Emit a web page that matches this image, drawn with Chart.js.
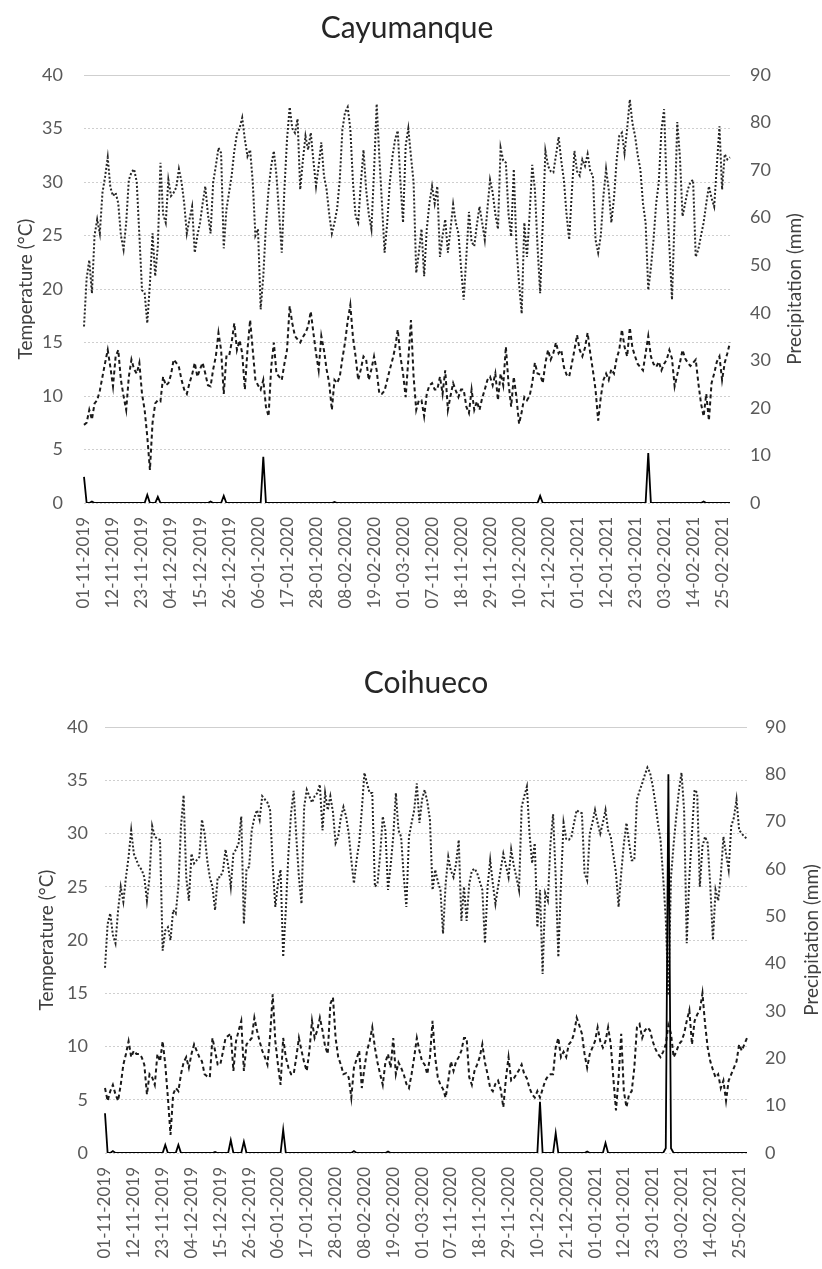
<!DOCTYPE html>
<html>
<head>
<meta charset="utf-8">
<script src="https://cdn.jsdelivr.net/npm/chart.js@4/dist/chart.umd.min.js"></script>
<style>
  body { margin: 0; background: #fff; }
  .box { position: absolute; left: 0; }
  canvas { display: block; }
</style>
</head>
<body>
<div class="box" style="top:0px"><canvas id="cay" width="822" height="610"></canvas></div>
<div class="box" style="top:640px"><canvas id="coi" width="822" height="629"></canvas></div>
<script>
// two seasons: 01-11-2019 .. 05-03-2020 and 01-11-2020 .. 28-02-2021
const seasons = [["2019-11-01", 126], ["2020-11-01", 120]];
const tickEvery = 11;

const cayTmax = [
  16.5,21,22.7,19.6,25,26.5,25.2,29,30.5,32.3,
  29.5,28.7,29,28,25,23.7,26.2,30.2,30.9,31.2,
  30,25,19.9,19.6,16.8,20.5,25.2,21.2,24,31.8,
  27,26.2,30.2,28.7,29,29.5,31.2,30,28,25.2,
  26.5,27.7,23.4,25,26.2,28,29.6,27,25.2,30,
  31.5,33.2,32.7,23.8,27.4,29,30.6,32.9,34.5,35,
  36,34,32.4,33,30,25,25.6,18.1,21.2,26,
  29.3,31.5,32.9,30.6,27,23.4,29.3,34,37,35,
  34.6,35.9,29.3,32,34.3,33,34.6,32,29.6,31.5,
  33.7,30.6,29.3,27,25.2,26.2,27.5,30.2,34.9,36.5,
  37,35,30,26.8,26.2,29.9,33,29.3,27,25.6,
  31,37.3,32.4,28,23.4,26.2,30,32.4,34,34.8,
  30,26.2,33.4,35,32.4,30,21.5,23.4,25.6,21.2,
  25.6,28,29.6,28,29.6,23,25,26.5,23.4,25.6,
  27.9,26.2,25.2,22,19,23,27.2,24.4,24,26,
  27.7,26.2,24.6,27.5,30.2,29,27,25.6,33.2,32,
  31.8,27,24.9,31.2,24,20.5,17.7,26.2,23,27,
  31.6,29.3,24,19.6,26.2,32.9,31.5,31,30.9,32.5,
  34.2,32,30.2,27,24.6,29,32.9,31,30.6,32.1,
  31.5,32.6,31,30.6,24.6,23.4,25,28.7,31.2,29.3,
  26.2,28.5,32,34.3,34.6,32.7,35,37.7,35.5,34.3,
  32.5,31.2,28,26.2,19.9,22,24.6,28,30,34.9,
  36.8,29.3,24,19,26.8,35.6,32.4,26.8,28,29.3,
  30,30.2,23,23.7,25,26.2,28,29.6,28.5,27.7,
  31.5,35.2,29.3,32.6,32.1,32.3
];
const cayTmin = [
  7.3,7.5,8.7,7.8,9.3,9.6,10.5,11.8,13.1,14.3,
  12.7,10.9,13.7,14.3,11.5,10,8.7,11.8,13.4,12.5,
  12.1,13.1,10.2,8.7,6.2,3.1,7.5,9.3,9.6,9.5,
  11.8,11,11.2,12,13.4,13.1,12.7,11.5,10.6,10.2,
  11.2,12,13.1,11.8,12.5,13.1,12.1,11,10.9,12.5,
  13.7,15.9,14.3,10.2,13.7,13.7,15,16.8,14.3,15.2,
  14,10.6,14.3,17.1,14.3,11.5,11,10.6,11.5,9,
  8.1,12.7,15,12.1,11.8,11.5,13,14.3,18.4,16.8,
  15.6,15.3,15,15.5,15.9,16.5,17.9,15.9,14,12.4,
  15.6,14.3,12.5,11.2,8.7,11.5,11.2,11.8,13.5,15,
  17,18.5,15.5,13.7,11.5,12.5,13.7,13.4,11.5,12.5,
  13.7,12.4,10.2,10.2,10.5,11.5,12.5,13.4,14.5,16.2,
  13.7,12.1,9.9,13.4,17.1,11.8,8.7,9.6,9.6,8.1,
  10.2,11,11.2,10.6,10.6,11.8,10.2,12.4,8.7,10,
  11.2,10.5,9.9,10.6,10.6,9,8.4,10.6,8.7,9.5,
  8.7,9.8,10.6,11.5,11.8,11,12.1,9.6,12.1,11,
  14.6,11.2,9,11.8,9.9,7.4,8.5,9.9,9.6,10,
  11.2,13.1,12.1,12,11.2,13.1,14.3,13.4,14,15,
  14,14.3,12.7,12,11.8,13,14.3,15.7,14.3,13.7,
  14.5,15.9,14,12.4,10.6,7.7,9.9,11.5,12.1,11.5,
  12.5,12.1,13.5,14.3,16.2,14.6,13.7,16.4,14.5,13.7,
  13,12.7,12.4,14,15.6,13.7,13,12.7,13.2,12.4,
  13,13.4,14.3,13.5,10.9,12,13.1,14.3,13.5,13.1,
  12.8,13.1,13.4,11.2,9.3,8.1,10.2,7.7,11.2,12.1,
  13.2,13.7,11.5,13.1,14,15
];
const cayRain = [
  5.5,0,0,0.3,0,0,0,0,0,0,  0,0,0,0,0,0,0,0,0,0,
  0,0,0,0,1.7,0,0,0,1.3,0,  0,0,0,0,0,0,0,0,0,0,
  0,0,0,0,0,0,0,0,0.3,0,    0,0,0,1.5,0,0,0,0,0,0,
  0,0,0,0,0,0,0,0,9.7,0,    0,0,0,0,0,0,0,0,0,0,
  0,0,0,0,0,0,0,0,0,0,      0,0,0,0,0,0.2,0,0,0,0,
  0,0,0,0,0,0,0,0,0,0,      0,0,0,0,0,0,0,0,0,0,
  0,0,0,0,0,0,0,0,0,0,      0,0,0,0,0,0,0,0,0,0,
  0,0,0,0,0,0,0,0,0,0,      0,0,0,0,0,0,0,0,0,0,
  0,0,0,0,0,0,0,0,0,0,      0,0,0,1.5,0,0,0,0,0,0,
  0,0,0,0,0,0,0,0,0,0,      0,0,0,0,0,0,0,0,0,0,
  0,0,0,0,0,0,0,0,0,0,      0,0,0,0,10.5,0,0,0,0,0,
  0,0,0,0,0,0,0,0,0,0,      0,0,0,0,0,0.3,0,0,0,0,
  0,0,0,0,0,0
];

const coiTmax = [
  17.4,21.5,22.5,20.5,19.7,22.8,25,23.6,25.9,27.8,
  30.3,28.1,27.5,26.9,26.6,25.9,23.7,25.9,30.7,29.7,
  29.5,29.4,19,20.9,21.2,20,22.8,22.5,25,30.7,
  33.6,25.9,23.7,28.1,27.2,27.5,27.8,31.3,30,27.5,
  25.9,25,22.8,25.9,25.9,26.5,28.5,27,25,28.1,
  28.5,29.1,31.6,21.5,26.6,26.9,30.3,31.5,32.2,31.3,
  33.5,33.2,32.9,32.2,27,23.1,25.3,26.6,18.4,22.8,
  28.1,31.9,34,29.7,25.9,23.4,32.5,34.1,33.5,32.9,
  33.5,33.8,34.6,30.3,33.8,32.2,33.5,32,29.1,29.7,
  31.5,32.5,31.6,30,27.5,25.3,27.5,29.1,32.2,35.7,
  34.7,33.8,33.8,25,25.3,28,31.6,30.3,24.7,27,
  29.7,33.8,30.3,29.7,26,23.1,29.7,31,32.2,34.7,
  31,33.2,34.1,33,31.3,24.7,26.6,25.5,24.7,20.6,
  25.3,27.8,26.5,25.9,27.2,29.4,21.8,25,21.8,25.3,
  26.5,26.7,26.3,25.5,24.7,19.7,25,27.5,25.3,23.4,
  25,26.6,28.1,27,25.9,28.5,27,25.9,24.7,32.5,
  33.5,34.4,30,27.2,29.1,21.2,24.7,16.8,24.4,23.7,
  29.1,31.8,25.9,18.4,25.3,31,29.5,29.4,29.7,31,
  32.2,32,31.9,26.3,25.6,30,31,32.2,31,30,
  31,32.2,30.3,29.7,28,26.3,23.1,26.3,29,31,
  29.1,27.5,27.5,33.2,34,34.7,35.5,36.2,35.7,34.5,
  32.9,31,29.4,25.9,22,14.8,25.9,29,31.6,34,
  35.7,32.2,19.7,25.9,30,34.1,33.8,25,28.8,29.7,
  29.1,25,20,24.7,23.7,26,29.7,28.1,26.6,30.7,
  31.5,33.2,30.3,30,29.7,29.5
];
const coiTmin = [
  6.1,4.9,5.8,6.4,5.5,4.9,6.4,8.3,9.3,10.5,
  9,9.6,9.3,9.3,9,8.3,5.5,7.4,7.1,6.4,
  9.3,8.6,10.5,8.3,5.2,1.7,5.5,6.1,5.8,7.4,
  8.5,9,8,9.3,10.2,9.6,9,8.6,7.4,7.2,
  7.1,10.8,9.6,8.3,8.3,9.5,10.8,11,11.2,7.7,
  10.5,11.5,12.4,7.7,10.2,10.5,10.8,12.7,11.5,10.5,
  9.6,9,8.3,11,14.9,10.5,8.3,6.4,10.8,9,
  8,7.4,7.4,9,10.8,9.6,8.5,7.7,9.6,12.4,
  10.8,11.5,12.7,11.5,10,9.3,14,14.6,10.8,9,
  8.3,7.4,7.5,7.1,5.2,8,8.8,9.6,6.1,8,
  9.6,10.5,11.8,9.9,8.5,7.4,6.4,8.5,9.3,8,
  10.8,7.4,8.5,8,7.4,6.5,6.1,7.4,9,10.8,
  9.6,8.6,8.3,7.4,9,12.4,9,7.1,6.4,6,
  5.2,6.8,8.6,7.7,8.6,9,9.6,10.8,10.8,7.1,
  6.4,7.7,8.3,9,10.2,8.5,7.4,6.1,5.8,6.5,
  6.8,6,4.3,7,9,6.8,7,7.4,7.8,8.3,
  7.4,7,6.1,5.5,5.2,5.8,5.2,6,6.8,7.2,
  7.4,7.4,9.9,10.8,9,9.5,9,10.2,10.5,11.2,
  12.7,12,11.2,9.3,8,9.3,9.9,10.5,11.8,10.5,
  9.9,10.5,11.8,10.2,7,4,7.1,11.2,5.8,4.3,
  5.5,5.8,8,11.8,12.1,10.8,11.5,11.8,11.5,10.5,
  9.8,9.3,9,9.5,10.2,12,11.2,9,9.5,10.2,
  10.5,11.2,12.4,13.4,10.2,12.4,13,13.4,15,12.1,
  9.9,8.6,7.8,7.1,7.4,6.1,6.8,4.9,6.8,7.4,
  8,8.6,10.2,9.6,10.2,10.8
];
const coiRain = [
  8.4,0,0,0.4,0,0,0,0,0,0,  0,0,0,0,0,0,0,0,0,0,
  0,0,0,1.7,0,0,0,0,1.7,0,  0,0,0,0,0,0,0,0,0,0,
  0,0,0.2,0,0,0,0,0,2.7,0,  0,0,0,2.4,0,0,0,0,0,0,
  0,0,0,0,0,0,0,0,4.9,0,    0,0,0,0,0,0,0,0,0,0,
  0,0,0,0,0,0,0,0,0,0,      0,0,0,0,0,0.4,0,0,0,0,
  0,0,0,0,0,0,0,0,0.3,0,    0,0,0,0,0,0,0,0,0,0,
  0,0,0,0,0,0,0,0,0,0,      0,0,0,0,0,0,0,0,0,0,
  0,0,0,0,0,0,0,0,0,0,      0,0,0,0,0,0,0,0,0,0,
  0,0,0,0,0,0,10.8,0,0,0,   0,0,4.2,0,0,0,0,0,0,0,
  0,0,0,0,0.3,0,0,0,0,0,    0,2.1,0,0,0,0,0,0,0,0,
  0,0,0,0,0,0,0,0,0,0,      0,0,0,0,1,80,1,0,0,0,
  0,0,0,0,0,0,0,0,0,0,      0,0,0,0,0,0,0,0,0,0,
  0,0,0,0,0,0
];

function pad(n) { return n < 10 ? "0" + n : "" + n; }
let dates = [];
seasons.forEach(s => {
    let d = new Date(s[0] + "T00:00:00Z");
    for (let i = 0; i < s[1]; i++) {
        dates.push(pad(d.getUTCDate()) + "-" + pad(d.getUTCMonth() + 1) + "-" + d.getUTCFullYear());
        d.setUTCDate(d.getUTCDate() + 1);
    }
});

[cayTmax, cayTmin, cayRain, coiTmax, coiTmin, coiRain].forEach((a, i) => {
    if (a.length !== dates.length) throw new Error("series " + i + " has " + a.length + " values, want " + dates.length);
});

Chart.defaults.font.family = "Lato, 'Open Sans', sans-serif";
Chart.defaults.color = "#595959";

const rightTitle = {
    id: "rightTitle",
    afterDraw(chart, args, opts) {
        const ctx = chart.ctx, a = chart.chartArea;
        ctx.save();
        ctx.translate(opts.x, (a.top + a.bottom) / 2);
        ctx.rotate(-Math.PI / 2);
        ctx.font = "19px Lato, 'Open Sans', sans-serif";
        ctx.fillStyle = "#404040";
        ctx.textAlign = "center";
        ctx.textBaseline = "middle";
        ctx.fillText(opts.text, 0, 0);
        ctx.restore();
    }
};

function makeChart(id, name, tmax, tmin, rain, g) {
    new Chart(document.getElementById(id), {
        type: "line",
        data: {
            labels: dates,
            datasets: [
                { label: "Precipitation", data: rain, yAxisID: "y2", borderColor: "#000", borderWidth: 1.8 },
                { label: "Tmax", data: tmax, yAxisID: "y", borderColor: "#262626", borderWidth: 2, borderDash: [2, 2] },
                { label: "Tmin", data: tmin, yAxisID: "y", borderColor: "#1a1a1a", borderWidth: 2, borderDash: [4, 3] }
            ]
        },
        options: {
            responsive: false,
            animation: false,
            elements: { point: { radius: 0 }, line: { tension: 0 } },
            layout: { padding: 0 },
            plugins: {
                legend: { display: false },
                tooltip: { enabled: false },
                title: {
                    display: true, text: name, color: "#262626", fullSize: false,
                    font: { size: 30, weight: "normal", lineHeight: 1.2 },
                    padding: { top: g.titleTop, bottom: g.titleBottom }
                },
                rightTitle: { text: "Precipitation (mm)", x: g.rTitleX }
            },
            scales: {
                x: {
                    grid: { display: false },
                    border: { display: false },
                    afterFit: s => { s.height = g.xHeight; },
                    ticks: {
                        autoSkip: false, minRotation: 90, maxRotation: 90, padding: 6,
                        font: { size: 17 },
                        callback: function (v, i) { return i % tickEvery === 0 ? this.getLabelForValue(v) : null; }
                    }
                },
                y: {
                    position: "left", min: 0, max: 40,
                    afterFit: s => { s.width = g.left; },
                    grid: { color: "#cfcfcf", drawTicks: false },
                    border: { display: false, dash: c => (c.tick && c.tick.value === 40) ? [] : [2, 2] },
                    ticks: { stepSize: 5, padding: g.lPad, font: { size: 18 } },
                    title: { display: true, text: "Temperature (°C)", color: "#404040", font: { size: 19, lineHeight: 1.2 }, padding: { top: g.lTitle, bottom: 0 } }
                },
                y2: {
                    position: "right", min: 0, max: 90,
                    afterFit: s => { s.width = g.right; },
                    grid: { drawOnChartArea: false, drawTicks: false },
                    border: { display: false },
                    ticks: { stepSize: 10, padding: g.rPad, font: { size: 18 } }
                }
            }
        },
        plugins: [rightTitle]
    });
}

makeChart("cay", "Cayumanque", cayTmax, cayTmin, cayRain,
    { titleTop: 10, titleBottom: 29, xHeight: 107, left: 84, right: 92, lPad: 21, rPad: 20, lTitle: 14, rTitleX: 795 });
makeChart("coi", "Coihueco", coiTmax, coiTmin, coiRain,
    { titleTop: 25, titleBottom: 26, xHeight: 116, left: 105, right: 75, lPad: 17, rPad: 18, lTitle: 35, rTitleX: 812 });
</script>
</body>
</html>
